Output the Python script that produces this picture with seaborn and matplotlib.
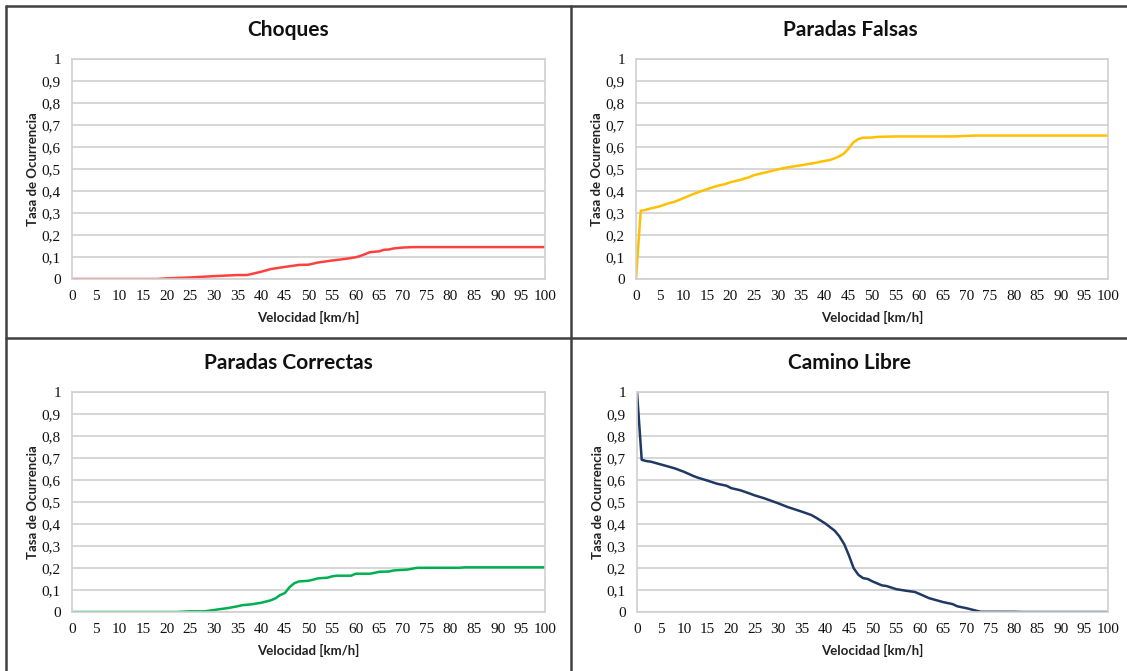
import matplotlib
matplotlib.use("Agg")
import matplotlib.pyplot as plt
from matplotlib.lines import Line2D
from matplotlib.ticker import FuncFormatter, MultipleLocator
import pandas as pd
import seaborn as sns

# ---- data: occurrence rate vs. speed (km/h) ----
choques_v = [0, 18, 20, 25, 30, 35, 37, 40, 42, 45, 48, 50, 52, 55, 58, 60, 61, 63, 65, 66,
             67, 68, 70, 72, 100]
choques_y = [0, 0, 0.003, 0.007, 0.013, 0.018, 0.018, 0.033, 0.045, 0.055, 0.064, 0.065, 0.075,
             0.084, 0.092, 0.099, 0.105, 0.122, 0.126, 0.133, 0.134, 0.139, 0.143, 0.145, 0.145]

falsas_v = [0, 1, 2, 3, 5, 7, 8, 10, 12, 13, 15, 17, 19, 20, 22, 24, 25, 27, 30, 32, 35, 38,
            40, 41, 42, 43, 44, 45, 46, 47, 48, 50, 51, 55, 67, 72, 100]
falsas_y = [0, 0.31, 0.314, 0.32, 0.33, 0.345, 0.35, 0.367, 0.385, 0.393, 0.408, 0.422, 0.432,
            0.44, 0.45, 0.463, 0.472, 0.482, 0.498, 0.507, 0.517, 0.528, 0.537, 0.54, 0.548,
            0.557, 0.569, 0.592, 0.62, 0.635, 0.642, 0.643, 0.646, 0.648, 0.648, 0.652, 0.652]

correctas_v = [0, 22, 23, 25, 28, 30, 33, 35, 36, 38, 40, 42, 43, 44, 45, 46, 47, 48, 50, 51,
               52, 54, 55, 56, 59, 60, 63, 64, 65, 67, 68, 71, 73, 82, 83, 100]
correctas_y = [0, 0, 0.001, 0.003, 0.003, 0.009, 0.018, 0.026, 0.031, 0.035, 0.042, 0.053,
               0.062, 0.077, 0.086, 0.113, 0.131, 0.139, 0.142, 0.147, 0.153, 0.156, 0.162,
               0.165, 0.165, 0.174, 0.174, 0.178, 0.183, 0.184, 0.189, 0.193, 0.201, 0.201,
               0.203, 0.203]

libre_v = [0, 1, 2, 3, 5, 7, 8, 10, 12, 13, 15, 17, 19, 20, 22, 24, 25, 27, 30, 32, 35, 37,
           38, 40, 42, 43, 44, 45, 46, 47, 48, 49, 50, 52, 53, 55, 57, 59, 60, 62, 65, 67, 68,
           70, 72, 73, 80, 82, 100]
libre_y = [1.0, 0.692, 0.686, 0.683, 0.671, 0.659, 0.653, 0.637, 0.618, 0.61, 0.597, 0.583,
           0.574, 0.563, 0.553, 0.538, 0.53, 0.517, 0.494, 0.477, 0.456, 0.441, 0.429, 0.402,
           0.369, 0.343, 0.308, 0.257, 0.199, 0.169, 0.154, 0.15, 0.139, 0.121, 0.118, 0.104,
           0.097, 0.091, 0.082, 0.063, 0.045, 0.036, 0.026, 0.017, 0.006, 0.001, 0.001, 0.0,
           0.0]

titles = ["Choques", "Paradas Falsas", "Paradas Correctas", "Camino Libre"]
colors = ["#FF4040", "#FFC000", "#00B050", "#1F3864"]
x_label = "Velocidad [km/h]"
y_label = "Tasa de Ocurrencia"

series = [(choques_v, choques_y), (falsas_v, falsas_y),
          (correctas_v, correctas_y), (libre_v, libre_y)]

sns.set_theme(style="white")
plt.rcParams["font.family"] = ["Lato", "DejaVu Sans"]

W, H = 1127, 671
fig = plt.figure(figsize=(W / 100, H / 100), dpi=100)
fig.patch.set_facecolor("white")

# plot-area rectangles in pixels: (left, top, right, bottom)
boxes = [(72, 59, 545, 279), (636, 59, 1108, 279),
         (72, 392, 545, 612), (637, 392, 1108, 612)]
panel_centers = [(288, 30), (850, 30), (288, 363), (850, 363)]

tick_font = dict(family=["Liberation Serif", "DejaVu Serif"], size=11, color="#111111")
comma = FuncFormatter(lambda v, _: ("%g" % round(v, 1)).replace(".", ","))

for i, ((xs, ys), (l, t, r, b)) in enumerate(zip(series, boxes)):
    ax = fig.add_axes([l / W, 1 - b / H, (r - l) / W, (b - t) / H])
    df = pd.DataFrame({"v": xs, "y": ys})
    sns.lineplot(data=df, x="v", y="y", ax=ax, color=colors[i], linewidth=1.8)
    ax.set_xlim(0, 100)
    ax.set_ylim(0, 1)
    ax.xaxis.set_major_locator(MultipleLocator(5))
    ax.yaxis.set_major_locator(MultipleLocator(0.1))
    ax.yaxis.set_major_formatter(comma)
    ax.grid(axis="y", color="#D0D0D0", linewidth=1.2)
    ax.grid(axis="x", visible=False)
    ax.set_axisbelow(True)
    for s in ax.spines.values():
        s.set_color("#D0D0D0")
        s.set_linewidth(1.2)
    ax.tick_params(axis="both", length=0, pad=8)
    for lab in ax.get_xticklabels() + ax.get_yticklabels():
        lab.set_fontfamily(tick_font["family"])
        lab.set_fontsize(tick_font["size"])
        lab.set_color(tick_font["color"])
    ax.set_xlabel(x_label, fontsize=9.5, fontweight="bold", color="#222222", labelpad=6)
    ax.set_ylabel(y_label, fontsize=9.5, fontweight="bold", color="#222222", labelpad=2)
    cx, cy = panel_centers[i]
    fig.text(cx / W, 1 - cy / H, titles[i], ha="center", va="center",
             fontsize=15, fontweight="bold", color="#111111")

# panel frame lines
frame_kw = dict(color="#404040", linewidth=1.8, transform=fig.transFigure)
fig.add_artist(Line2D([6 / W, 1], [1 - 6 / H, 1 - 6 / H], **frame_kw))
fig.add_artist(Line2D([6 / W, 6 / W], [0, 1 - 6 / H], **frame_kw))
fig.add_artist(Line2D([571 / W, 571 / W], [0, 1 - 6 / H], **frame_kw))
fig.add_artist(Line2D([6 / W, 1], [1 - 338 / H, 1 - 338 / H], **frame_kw))

fig.savefig("out.png", dpi=100, facecolor="white")
